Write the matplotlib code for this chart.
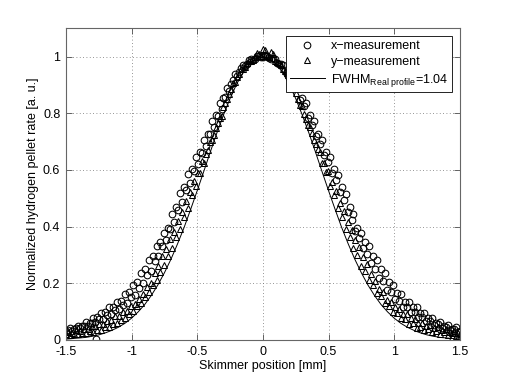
# -*- coding: utf-8 -*-
"""
Skimmer scan of the hydrogen pellet rate
"""

import matplotlib
matplotlib.use("Agg")
import matplotlib.pyplot as plt
from matplotlib.ticker import FormatStrFormatter

matplotlib.rcParams['font.family'] = ['Liberation Sans', 'DejaVu Sans']
matplotlib.rcParams['mathtext.default'] = 'regular'
matplotlib.rc('font', size=9)

# scan positions [mm]
x_grid_a = [-1.50, -1.47, -1.44, -1.41, -1.38, -1.35, -1.32, -1.29, -1.26, -1.23,
            -1.20, -1.17, -1.14, -1.11, -1.08, -1.05, -1.02, -0.99, -0.96, -0.93,
            -0.90, -0.87, -0.84, -0.81, -0.78, -0.75, -0.72, -0.69, -0.66, -0.63,
            -0.60, -0.57, -0.54, -0.51, -0.48, -0.45, -0.42, -0.39, -0.36, -0.33,
            -0.30, -0.27, -0.24, -0.21, -0.18, -0.15, -0.12, -0.09, -0.06, -0.03,
            0.00, 0.03, 0.06, 0.09, 0.12, 0.15, 0.18, 0.21, 0.24, 0.27,
            0.30, 0.33, 0.36, 0.39, 0.42, 0.45, 0.48, 0.51, 0.54, 0.57,
            0.60, 0.63, 0.66, 0.69, 0.72, 0.75, 0.78, 0.81, 0.84, 0.87,
            0.90, 0.93, 0.96, 0.99, 1.02, 1.05, 1.08, 1.11, 1.14, 1.17,
            1.20, 1.23, 1.26, 1.29, 1.32, 1.35, 1.38, 1.41, 1.44, 1.47, 1.50]
x_grid_b = [-1.485, -1.455, -1.425, -1.395, -1.365, -1.335, -1.305, -1.275, -1.245, -1.215,
            -1.185, -1.155, -1.125, -1.095, -1.065, -1.035, -1.005, -0.975, -0.945, -0.915,
            -0.885, -0.855, -0.825, -0.795, -0.765, -0.735, -0.705, -0.675, -0.645, -0.615,
            -0.585, -0.555, -0.525, -0.495, -0.465, -0.435, -0.405, -0.375, -0.345, -0.315,
            -0.285, -0.255, -0.225, -0.195, -0.165, -0.135, -0.105, -0.075, -0.045, -0.015,
            0.015, 0.045, 0.075, 0.105, 0.135, 0.165, 0.195, 0.225, 0.255, 0.285,
            0.315, 0.345, 0.375, 0.405, 0.435, 0.465, 0.495, 0.525, 0.555, 0.585,
            0.615, 0.645, 0.675, 0.705, 0.735, 0.765, 0.795, 0.825, 0.855, 0.885,
            0.915, 0.945, 0.975, 1.005, 1.035, 1.065, 1.095, 1.125, 1.155, 1.185,
            1.215, 1.245, 1.275, 1.305, 1.335, 1.365, 1.395, 1.425, 1.455, 1.485]

# x-measurement (circles), two passes + two stray points
y_circ_a = [0.032, 0.041, 0.038, 0.050, 0.049, 0.062, 0.061, 0.078, 0.080, 0.094,
            0.097, 0.115, 0.117, 0.134, 0.136, 0.161, 0.168, 0.193, 0.204, 0.236,
            0.249, 0.282, 0.296, 0.331, 0.344, 0.379, 0.395, 0.444, 0.470, 0.517,
            0.540, 0.584, 0.604, 0.646, 0.665, 0.706, 0.728, 0.773, 0.795, 0.836,
            0.855, 0.890, 0.905, 0.938, 0.946, 0.970, 0.974, 0.992, 0.990, 1.003,
            0.997, 1.001, 0.990, 0.991, 0.973, 0.969, 0.946, 0.937, 0.905, 0.888,
            0.854, 0.835, 0.794, 0.772, 0.727, 0.705, 0.664, 0.645, 0.604, 0.583,
            0.539, 0.516, 0.469, 0.443, 0.394, 0.379, 0.345, 0.330, 0.295, 0.282,
            0.249, 0.236, 0.203, 0.194, 0.167, 0.161, 0.135, 0.135, 0.115, 0.115,
            0.095, 0.096, 0.077, 0.078, 0.061, 0.065, 0.049, 0.053, 0.039, 0.045, 0.030]
y_circ_b = [0.035, 0.033, 0.042, 0.041, 0.051, 0.050, 0.061, 0.062, 0.073, 0.075,
            0.088, 0.092, 0.106, 0.110, 0.125, 0.131, 0.153, 0.160, 0.185, 0.200,
            0.228, 0.243, 0.278, 0.297, 0.333, 0.352, 0.391, 0.417, 0.460, 0.487,
            0.529, 0.555, 0.596, 0.621, 0.661, 0.685, 0.727, 0.752, 0.792, 0.816,
            0.856, 0.880, 0.917, 0.933, 0.959, 0.966, 0.987, 0.987, 1.002, 0.997,
            1.005, 0.994, 0.995, 0.979, 0.974, 0.951, 0.941, 0.909, 0.888, 0.848,
            0.824, 0.784, 0.760, 0.719, 0.693, 0.653, 0.629, 0.588, 0.563, 0.521,
            0.495, 0.452, 0.425, 0.383, 0.360, 0.325, 0.305, 0.270, 0.251, 0.220,
            0.208, 0.177, 0.168, 0.145, 0.139, 0.118, 0.116, 0.099, 0.098, 0.081,
            0.081, 0.066, 0.068, 0.054, 0.057, 0.044, 0.047, 0.035, 0.040, 0.029]
x_circ_stray = [-1.27, 1.45]
y_circ_stray = [0.002, 0.002]

# y-measurement (triangles), two passes
y_tri_b = [0.028, 0.026, 0.034, 0.033, 0.040, 0.040, 0.048, 0.048, 0.056, 0.057,
           0.066, 0.070, 0.083, 0.086, 0.099, 0.104, 0.121, 0.128, 0.146, 0.163,
           0.186, 0.202, 0.238, 0.262, 0.298, 0.322, 0.358, 0.382, 0.421, 0.450,
           0.491, 0.521, 0.562, 0.591, 0.631, 0.658, 0.698, 0.725, 0.764, 0.792,
           0.835, 0.867, 0.908, 0.929, 0.955, 0.965, 0.986, 0.989, 1.012, 1.001,
           1.022, 0.998, 1.010, 0.980, 0.971, 0.949, 0.935, 0.902, 0.873, 0.829,
           0.798, 0.758, 0.731, 0.692, 0.664, 0.625, 0.597, 0.556, 0.527, 0.485,
           0.456, 0.415, 0.388, 0.352, 0.328, 0.292, 0.268, 0.232, 0.208, 0.180,
           0.169, 0.140, 0.133, 0.115, 0.109, 0.093, 0.091, 0.077, 0.075, 0.061,
           0.061, 0.051, 0.053, 0.043, 0.045, 0.035, 0.038, 0.029, 0.032, 0.024]
y_tri_a = [0.020, 0.017, 0.022, 0.020, 0.025, 0.023, 0.030, 0.029, 0.036, 0.036,
           0.045, 0.046, 0.057, 0.060, 0.072, 0.078, 0.093, 0.101, 0.119, 0.131,
           0.152, 0.168, 0.193, 0.212, 0.241, 0.264, 0.298, 0.325, 0.362, 0.393,
           0.433, 0.467, 0.510, 0.545, 0.590, 0.626, 0.671, 0.706, 0.749, 0.783,
           0.823, 0.852, 0.887, 0.911, 0.939, 0.956, 0.977, 0.986, 0.998, 1.010,
           1.026, 1.003, 1.015, 0.985, 0.978, 0.955, 0.941, 0.909, 0.889, 0.850,
           0.825, 0.781, 0.751, 0.704, 0.673, 0.624, 0.592, 0.543, 0.512, 0.465,
           0.435, 0.391, 0.364, 0.323, 0.300, 0.262, 0.243, 0.210, 0.195, 0.166,
           0.154, 0.129, 0.121, 0.099, 0.095, 0.076, 0.074, 0.058, 0.059, 0.044,
           0.047, 0.034, 0.038, 0.027, 0.032, 0.021, 0.027, 0.018, 0.024, 0.015, 0.022]

# real profile (FWHM = 1.04 mm)
x_prof = [-1.50, -1.45, -1.40, -1.35, -1.30, -1.25, -1.20, -1.15, -1.10, -1.05,
          -1.00, -0.95, -0.90, -0.85, -0.80, -0.75, -0.70, -0.65, -0.60, -0.55,
          -0.50, -0.45, -0.40, -0.35, -0.30, -0.25, -0.20, -0.15, -0.10, -0.05,
          0.00, 0.05, 0.10, 0.15, 0.20, 0.25, 0.30, 0.35, 0.40, 0.45,
          0.50, 0.55, 0.60, 0.65, 0.70, 0.75, 0.80, 0.85, 0.90, 0.95,
          1.00, 1.05, 1.10, 1.15, 1.20, 1.25, 1.30, 1.35, 1.40, 1.45, 1.50]
y_prof = [0.003, 0.005, 0.007, 0.009, 0.013, 0.018, 0.025, 0.034, 0.045, 0.059,
          0.077, 0.099, 0.125, 0.157, 0.194, 0.237, 0.285, 0.339, 0.397, 0.461,
          0.527, 0.595, 0.664, 0.731, 0.794, 0.852, 0.903, 0.944, 0.975, 0.994,
          1.000, 0.994, 0.975, 0.944, 0.903, 0.852, 0.794, 0.731, 0.664, 0.595,
          0.527, 0.461, 0.397, 0.339, 0.285, 0.237, 0.194, 0.157, 0.125, 0.099,
          0.077, 0.059, 0.045, 0.034, 0.025, 0.018, 0.013, 0.009, 0.007, 0.005, 0.003]

fig = plt.figure(figsize=(5.07, 3.82), dpi=100)
ax = fig.add_axes([0.130, 0.110, 0.777, 0.816])

mk = dict(mfc='none', mec='k', ms=4.8, mew=0.75, ls='none')
ax.plot(x_grid_a + x_grid_b + x_circ_stray, y_circ_a + y_circ_b + y_circ_stray,
        'o', label='x\u2212measurement', **mk)
ax.plot(x_grid_b + x_grid_a, y_tri_b + y_tri_a,
        '^', label='y\u2212measurement', **mk)
ax.plot(x_prof, y_prof, 'k-', lw=0.7,
        label=r'FWHM$_{Real\ profile}$=1.04')

ax.set_xlim(-1.5, 1.5)
ax.set_ylim(0, 1.1)
ax.set_xticks([-1.5, -1, -0.5, 0, 0.5, 1, 1.5])
ax.set_yticks([0, 0.2, 0.4, 0.6, 0.8, 1])
ax.xaxis.set_major_formatter(FormatStrFormatter('%g'))
ax.yaxis.set_major_formatter(FormatStrFormatter('%g'))
ax.tick_params(direction='in', length=4, width=0.6, color='0.3',
               top=True, right=True)
ax.tick_params(axis='x', pad=4.5)
ax.tick_params(axis='y', pad=4)
for s in ax.spines.values():
    s.set_color('0.4')
    s.set_linewidth(0.8)
ax.grid(True, linestyle=(0, (1, 3)), color='0.45', lw=0.6)

ax.set_xlabel("Skimmer position [mm]", labelpad=1)
ax.set_ylabel("Normalized hydrogen pellet rate [a. u.]", labelpad=3)

leg = ax.legend(loc='upper right', bbox_to_anchor=(0.980, 0.974),
                borderaxespad=0, fancybox=False, framealpha=1,
                edgecolor='k', handlelength=2.8, handletextpad=0.5,
                borderpad=0.3, labelspacing=0.3)
leg.get_frame().set_linewidth(0.6)

fig.savefig("out.png", dpi=100)
